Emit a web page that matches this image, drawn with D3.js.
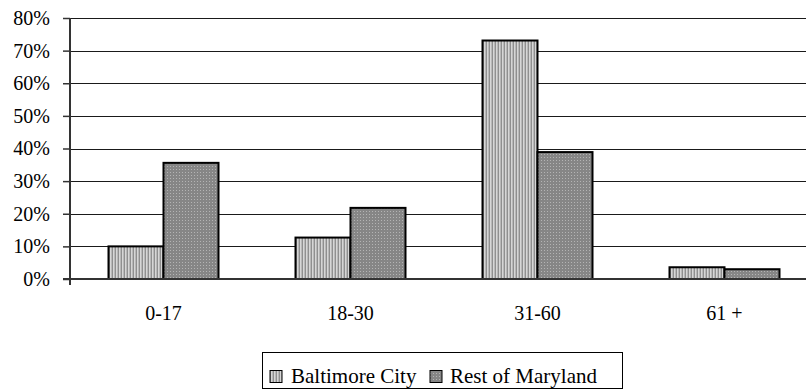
<!DOCTYPE html>
<html>
<head>
<meta charset="utf-8">
<script src="https://cdn.jsdelivr.net/npm/d3@7"></script>
<style>
  html, body { margin: 0; padding: 0; background: #fff; }
  svg { display: block; }
</style>
</head>
<body>
<svg id="chart" width="806" height="390"></svg>
<script>
// Age groups and share of each population (%)
const categories = ["0-17", "18-30", "31-60", "61 +"];
const baltimoreCity = [10, 12.7, 73.1, 3.6];
const restOfMaryland = [35.6, 21.8, 38.9, 3.0];
const seriesNames = ["Baltimore City", "Rest of Maryland"];
const yTicks = [0, 10, 20, 30, 40, 50, 60, 70, 80];

const FONT = "'Liberation Serif'";
const svg = d3.select("#chart");
const margin = { left: 70, top: 18, right: -12, bottom: 111 };
const W = 806, H = 390;
const x0 = margin.left, x1 = W - margin.right;
const yTop = margin.top, yBot = H - margin.bottom;

// Fill patterns for the two series
const defs = svg.append("defs");
const pA = defs.append("pattern").attr("id", "patCity")
  .attr("patternUnits", "userSpaceOnUse").attr("width", 3).attr("height", 3);
pA.append("rect").attr("width", 3).attr("height", 3).attr("fill", "#d6d6d6");
pA.append("rect").attr("x", 0).attr("width", 1).attr("height", 3).attr("fill", "#8f8f8f");
pA.append("rect").attr("x", 2).attr("width", 1).attr("height", 3).attr("fill", "#b8b8b8");

const pB = defs.append("pattern").attr("id", "patRest")
  .attr("patternUnits", "userSpaceOnUse").attr("width", 3).attr("height", 3);
pB.append("rect").attr("width", 3).attr("height", 3).attr("fill", "#868686");
pB.append("rect").attr("x", 1).attr("y", 1).attr("width", 1).attr("height", 1).attr("fill", "#b4b4b4");

const fills = ["url(#patCity)", "url(#patRest)"];

const x = d3.scaleBand().domain(categories).range([x0, x1]).paddingInner(0).paddingOuter(0);
const xs = d3.scaleBand().domain(seriesNames).range([0, x.bandwidth()]).paddingInner(0).paddingOuter(0.7);
const y = d3.scaleLinear().domain([0, 80]).range([yBot, yTop]);

// Horizontal gridlines
svg.append("g").selectAll("line").data(yTicks.filter(d => d > 0)).join("line")
  .attr("x1", x0).attr("x2", W)
  .attr("y1", d => Math.round(y(d)) + 0.5).attr("y2", d => Math.round(y(d)) + 0.5)
  .attr("stroke", "#1a1a1a").attr("stroke-width", 1.2);

// Y axis
const yAxis = d3.axisLeft(y).tickValues(yTicks).tickFormat(d => d + "%").tickSize(7).tickPadding(13);
const gy = svg.append("g").attr("transform", `translate(${x0},0)`).call(yAxis);
gy.attr("font-family", null).attr("font-size", null);
gy.select(".domain").remove();
gy.selectAll(".tick line").attr("stroke", "#333").attr("stroke-width", 1.5);
gy.selectAll(".tick text").style("font-family", FONT).style("font-size", "20px").attr("fill", "#000");
svg.append("line").attr("x1", x0).attr("x2", x0).attr("y1", yTop).attr("y2", yBot + 6)
  .attr("stroke", "#333").attr("stroke-width", 2);

// Bars
const data = categories.map((c, i) => ({ cat: c, vals: [baltimoreCity[i], restOfMaryland[i]] }));
const groups = svg.append("g").selectAll("g").data(data).join("g")
  .attr("transform", d => `translate(${x(d.cat)},0)`);
groups.selectAll("rect").data(d => d.vals.map((v, j) => ({ v, j }))).join("rect")
  .attr("x", d => xs(seriesNames[d.j]))
  .attr("width", xs.bandwidth())
  .attr("y", d => y(d.v))
  .attr("height", d => yBot - y(d.v))
  .attr("fill", d => fills[d.j])
  .attr("stroke", "#000").attr("stroke-width", 2);

// X axis baseline
svg.append("line").attr("x1", x0 - 7).attr("x2", W).attr("y1", yBot).attr("y2", yBot)
  .attr("stroke", "#333").attr("stroke-width", 2);

// Category labels
const xAxis = d3.axisBottom(x).tickSize(0).tickPadding(27);
const gx = svg.append("g").attr("transform", `translate(0,${yBot})`).call(xAxis);
gx.attr("font-family", null).attr("font-size", null);
gx.select(".domain").remove();
gx.selectAll(".tick text").style("font-family", FONT).style("font-size", "20px").attr("fill", "#000");

// Legend
const leg = svg.append("g");
leg.append("rect").attr("x", 262.5).attr("y", 352.5).attr("width", 360).attr("height", 36)
  .attr("fill", "#fff").attr("stroke", "#000").attr("stroke-width", 1);
const legItems = [
  { name: seriesNames[0], sx: 270, tx: 291 },
  { name: seriesNames[1], sx: 430, tx: 450 }
];
legItems.forEach((it, i) => {
  leg.append("rect").attr("x", it.sx).attr("y", 370.5).attr("width", 12).attr("height", 12)
    .attr("fill", fills[i]).attr("stroke", "#000").attr("stroke-width", 1);
  leg.append("text").attr("x", it.tx).attr("y", 383)
    .style("font-family", FONT).style("font-size", "21px")
    .attr("fill", "#000").text(it.name);
});
</script>
</body>
</html>
